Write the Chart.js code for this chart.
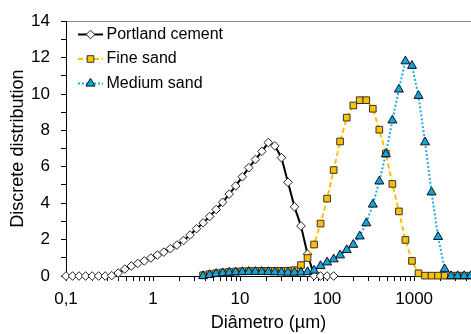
<!DOCTYPE html>
<html>
<head>
<meta charset="utf-8">
<script src="https://cdn.jsdelivr.net/npm/chart.js"></script>
<style>
  body { margin: 0; background: #fff; }
  #wrap { width: 471px; height: 334px; }
</style>
</head>
<body>
<div id="wrap"><canvas id="chart" width="471" height="334"></canvas></div>
<script>
// particle diameters (µm), shared by all three series
const sizes = [0.1, 0.119, 0.141, 0.168, 0.2, 0.237, 0.282, 0.335, 0.398, 0.473, 0.562, 0.668, 0.794, 0.944,
  1.12, 1.33, 1.58, 1.88, 2.24, 2.66, 3.16, 3.76, 4.47, 5.31, 6.31, 7.5, 8.91, 10.6, 12.6, 15, 17.8, 21.1,
  25.1, 29.9, 35.5, 42.2, 50.1, 59.6, 70.8, 84.1, 100, 119, 141, 168, 200, 237, 282, 335, 398, 473, 562,
  668, 794, 944, 1122, 1334, 1585, 1884, 2239, 2661, 3162, 3758, 4467];

const cement = [0, 0, 0, 0, 0, 0, 0, 0.02, 0.16, 0.38, 0.55, 0.69, 0.83, 0.99, 1.15, 1.31, 1.5, 1.7, 1.95,
  2.25, 2.6, 2.92, 3.27, 3.65, 4.05, 4.5, 4.95, 5.45, 5.95, 6.4, 6.85, 7.33, 7.15, 6.5, 5.15, 3.8, 2.75,
  1.2, 0.02, 0, 0, 0,
  null, null, null, null, null, null, null, null, null, null, null, null, null, null, null, null, null,
  null, null, null, null];

const fineSand = [null, null, null, null, null, null, null, null, null, null, null, null, null, null, null,
  null, null, null, null, null, null,
  0.04, 0.1, 0.15, 0.19, 0.22, 0.24, 0.26, 0.27, 0.28, 0.28, 0.28, 0.28, 0.28, 0.29,
  0.32, 0.6, 0.99, 1.73, 2.88, 4.25, 5.82, 7.39, 8.7, 9.37, 9.66, 9.66, 9.19, 8.04, 6.72, 5.06, 3.55,
  1.98, 0.83, 0.15, 0.02, 0.02, 0.02, 0.02, 0.02, 0.02, 0.02, 0.02];

const mediumSand = [null, null, null, null, null, null, null, null, null, null, null, null, null, null, null,
  null, null, null, null, null, null,
  0, 0.06, 0.12, 0.16, 0.19, 0.21, 0.22, 0.23, 0.23, 0.23, 0.22, 0.21, 0.2, 0.19, 0.19, 0.2, 0.22,
  0.3, 0.55, 0.75, 0.92, 1.14, 1.43, 1.72, 2.18, 2.9, 3.93, 5.2, 6.7, 8.55, 10.25, 11.8, 11.55, 9.9,
  7.35, 4.6, 2.15, 0.38, 0, 0, 0, 0];

const seriesLabels = ['Portland cement', 'Fine sand', 'Medium sand'];
const xTickValues = [0.1, 1, 10, 100, 1000];
const xTickLabels = ['0,1', '1', '10', '100', '1000'];
const xMin = 0.1;
const xMax = 4500;

const toPoints = vals => sizes.map((s, i) => ({ x: s, y: vals[i] })).filter(p => p.y !== null);

Chart.defaults.font.family = '"Liberation Sans", Arial, sans-serif';
Chart.defaults.color = '#000';

// legend drawn inside the plot: line sample + marker + label
const insideLegend = {
  id: 'insideLegend',
  afterDraw(chart) {
    const ctx = chart.ctx;
    chart.data.datasets.forEach((ds, i) => {
      const y = 34.5 + i * 24.5;
      ctx.save();
      ctx.strokeStyle = ds.borderColor;
      ctx.lineWidth = ds.borderWidth;
      ctx.setLineDash(ds.borderDash || []);
      ctx.beginPath();
      ctx.moveTo(78, y);
      ctx.lineTo(103, y);
      ctx.stroke();
      ctx.setLineDash([]);
      ctx.fillStyle = ds.pointBackgroundColor;
      ctx.strokeStyle = ds.pointBorderColor;
      ctx.lineWidth = ds.pointBorderWidth;
      Chart.helpers.drawPoint(ctx, {
        pointStyle: ds.pointStyle, radius: ds.pointRadius,
        borderWidth: ds.pointBorderWidth, rotation: 0
      }, 90.5, y);
      ctx.fillStyle = '#000';
      ctx.font = '16px "Liberation Sans", Arial, sans-serif';
      ctx.textBaseline = 'middle';
      ctx.textAlign = 'left';
      ctx.fillText(ds.label, 106.5, y);
      ctx.restore();
    });
  }
};

new Chart(document.getElementById('chart'), {
  type: 'line',
  data: {
    datasets: [
      {
        label: seriesLabels[0],
        data: toPoints(cement),
        borderColor: '#000',
        borderWidth: 2,
        pointStyle: 'rectRot',
        pointRadius: 4.3,
        pointBackgroundColor: '#fff',
        pointBorderColor: '#222',
        pointBorderWidth: 1,
        order: 3,
        clip: false,
      },
      {
        label: seriesLabels[1],
        data: toPoints(fineSand),
        borderColor: '#FFC000',
        borderWidth: 2,
        borderDash: [5, 3],
        pointStyle: 'rect',
        pointRadius: 4.7,
        pointBackgroundColor: '#FFC000',
        pointBorderColor: '#333',
        pointBorderWidth: 1,
        order: 2,
        clip: false,
      },
      {
        label: seriesLabels[2],
        data: toPoints(mediumSand),
        borderColor: '#1AAAE6',
        borderWidth: 2,
        borderDash: [2, 2],
        pointStyle: 'triangle',
        pointRadius: 5.2,
        pointBackgroundColor: '#12A4E0',
        pointBorderColor: '#111',
        pointBorderWidth: 1,
        order: 1,
        clip: false,
      },
    ],
  },
  options: {
    responsive: false,
    animation: false,
    layout: { autoPadding: false, padding: { top: 17, right: 0, left: 0, bottom: 0 } },
    plugins: {
      legend: { display: false },
      tooltip: { enabled: false },
    },
    scales: {
      x: {
        type: 'logarithmic',
        min: xMin,
        max: xMax,
        afterBuildTicks: scale => {
          const vals = [];
          xTickValues.forEach(d => {
            for (let m = 1; m < 10; m++) {
              if (d * m <= xMax) vals.push(d * m);
            }
          });
          scale.ticks = vals.map(v => ({ value: v }));
        },
        afterFit: scale => {
          scale.height = 58;
          // plot runs right up to the canvas edge
          scale.paddingRight = 0;
        },
        ticks: {
          autoSkip: false,
          maxRotation: 0,
          padding: 8,
          font: { size: 17 },
          callback: value => {
            const i = xTickValues.indexOf(value);
            return i >= 0 ? xTickLabels[i] : '';
          },
        },
        grid: { drawOnChartArea: false, tickColor: '#000', tickLength: 5 },
        border: { color: '#000', width: 1 },
        title: { display: true, text: 'Diâmetro (µm)', font: { size: 18 }, padding: { top: 0, bottom: 0 } },
      },
      y: {
        min: 0,
        max: 14,
        afterFit: scale => { scale.width = 66; },
        ticks: {
          stepSize: 1,
          autoSkip: false,
          padding: 11,
          font: { size: 17 },
          callback: value => (value % 2 === 0 ? value : ''),
        },
        grid: {
          color: c => (c.tick && c.tick.value === 14 ? '#8c8c8c' : 'rgba(0,0,0,0)'),
          tickColor: '#000',
          tickLength: 5,
        },
        border: { color: '#000', width: 1 },
        title: { display: true, text: 'Discrete distribution', font: { size: 18 }, padding: { top: 7, bottom: 0 } },
      },
    },
  },
  plugins: [insideLegend],
});
</script>
</body>
</html>
